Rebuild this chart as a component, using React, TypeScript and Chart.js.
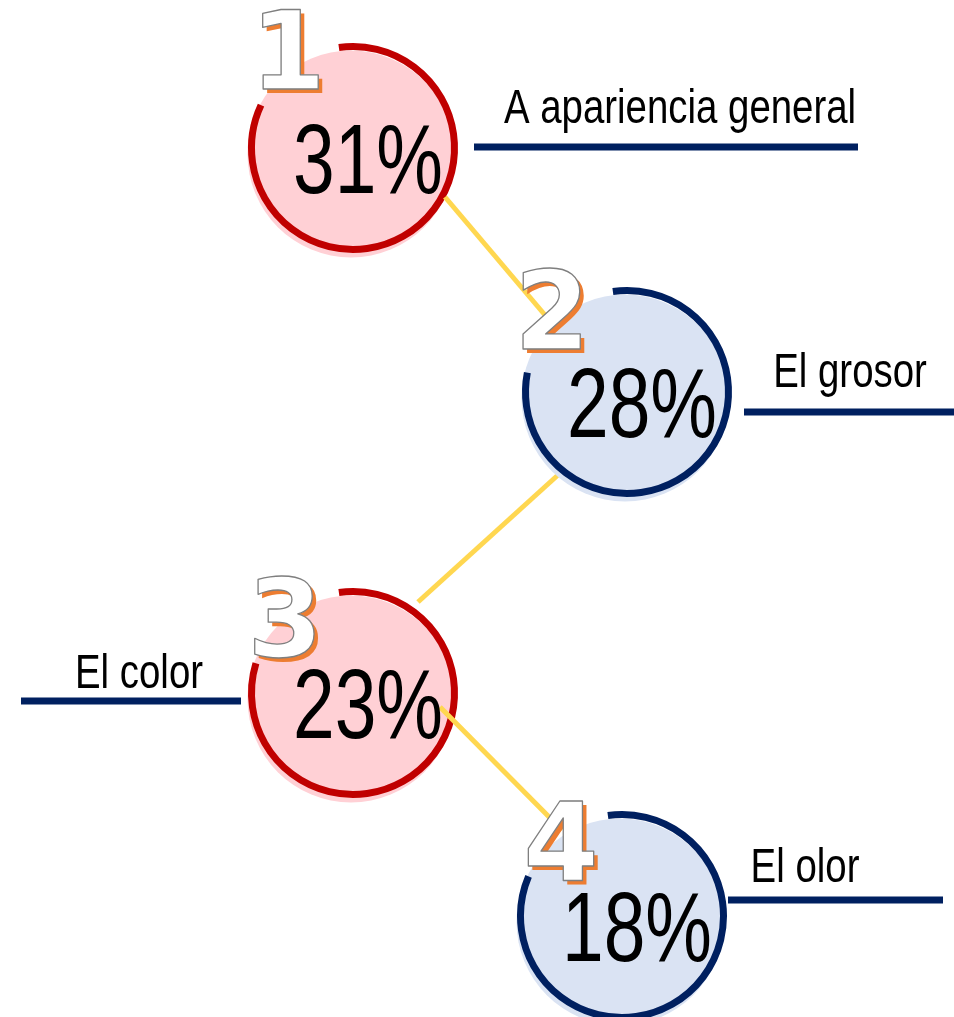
import { useEffect, useRef } from 'react';
import { Chart, registerables } from 'chart.js';

Chart.register(...registerables);

// ---------- data ----------
const categories = ['A apariencia general', 'El grosor', 'El color', 'El olor'];
const percentages = [31, 28, 23, 18];
const ranks = ['1', '2', '3', '4'];

// circle centres (data space of the diagram)
const centerX = [353, 627, 353, 622];
const centerY = [148, 392, 693, 916];

// rank badge anchor (centre x, baseline)
const badgeX = [288, 552, 285, 561];
const badgeY = [89, 349, 656, 880];

// category label anchor (centre x, baseline)
const labelX = [680, 850, 139, 805];
const labelY = [123, 387, 688, 882];

// leader lines under labels
const leaderStartX = [474, 744, 21, 728];
const leaderEndX = [858, 954, 241, 943];
const leaderY = [147, 412, 701, 900];

// yellow connectors between circles
const linkFromX = [445, 558, 440];
const linkFromY = [197, 475, 707];
const linkToX = [550, 418, 562];
const linkToY = [321, 602, 830];

// ring gap end angle (degrees) per circle
const ringEndDeg = [205, 191, 197, 203];

// ---------- style ----------
const W = 954;
const H = 1017;
const RING_R = 101.5;
const RING_W = 7;
const FILL_R = 103.5;
const FILL_DX = -2;
const FILL_DY = 6;
const RING_START_DEG = -98;
const themes = [
  { fill: '#FFD0D5', ring: '#C00000' },
  { fill: '#DAE3F3', ring: '#002060' },
  { fill: '#FFD0D5', ring: '#C00000' },
  { fill: '#DAE3F3', ring: '#002060' },
];
const circleOnTop = [false, true, false, true];
const NAVY = '#002060';
const YELLOW = '#FFD750';

const rad = (d: number) => (d * Math.PI) / 180;

export default function App() {
  const ref = useRef<HTMLCanvasElement>(null);

  useEffect(() => {
    document.body.style.margin = '0';
    const canvas = ref.current;
    if (!canvas) return;

    const drawCircle = (chart: any, i: number) => {
      const ctx = chart.ctx;
      const xs = chart.scales.x;
      const ys = chart.scales.y;
      const cx = xs.getPixelForValue(centerX[i]);
      const cy = ys.getPixelForValue(centerY[i]);
      ctx.save();
      ctx.fillStyle = themes[i].fill;
      ctx.beginPath();
      ctx.arc(cx + FILL_DX, cy + FILL_DY, FILL_R, 0, Math.PI * 2);
      ctx.fill();
      ctx.strokeStyle = themes[i].ring;
      ctx.lineWidth = RING_W;
      ctx.lineCap = 'butt';
      ctx.beginPath();
      ctx.arc(cx, cy, RING_R, rad(RING_START_DEG), rad(ringEndDeg[i]), false);
      ctx.stroke();
      ctx.restore();
    };

    const plugin = {
      id: 'infographic',
      beforeDatasetsDraw(chart: any) {
        for (let i = 0; i < categories.length; i++) {
          if (!circleOnTop[i]) drawCircle(chart, i);
        }
      },
      afterDatasetsDraw(chart: any) {
        for (let i = 0; i < categories.length; i++) {
          if (circleOnTop[i]) drawCircle(chart, i);
        }
        const ctx = chart.ctx;
        const xs = chart.scales.x;
        const ys = chart.scales.y;
        for (let i = 0; i < categories.length; i++) {
          const cx = xs.getPixelForValue(centerX[i]);
          const cy = ys.getPixelForValue(centerY[i]);

          // percentage
          ctx.save();
          ctx.font = '98px "Liberation Sans", Arial, sans-serif';
          ctx.fillStyle = '#000000';
          ctx.textAlign = 'center';
          ctx.textBaseline = 'alphabetic';
          ctx.translate(cx + 15, cy + 45);
          ctx.scale(0.765, 1);
          ctx.fillText(`${percentages[i]}%`, 0, 0);
          ctx.restore();

          // rank badge
          const bx = xs.getPixelForValue(badgeX[i]);
          const by = ys.getPixelForValue(badgeY[i]);
          ctx.save();
          ctx.font = 'bold 108px "DejaVu Sans", sans-serif';
          ctx.textAlign = 'center';
          ctx.textBaseline = 'alphabetic';
          ctx.fillStyle = '#ED7D31';
          ctx.fillText(ranks[i], bx + 4, by + 4);
          ctx.fillStyle = '#FFFFFF';
          ctx.fillText(ranks[i], bx, by);
          ctx.strokeStyle = '#7F7F7F';
          ctx.lineWidth = 1.3;
          ctx.lineJoin = 'round';
          ctx.strokeText(ranks[i], bx, by);
          ctx.restore();

          // category label
          const lx = xs.getPixelForValue(labelX[i]);
          const ly = ys.getPixelForValue(labelY[i]);
          ctx.save();
          ctx.font = '48px "Liberation Sans", Arial, sans-serif';
          ctx.fillStyle = '#000000';
          ctx.textAlign = 'center';
          ctx.textBaseline = 'alphabetic';
          ctx.translate(lx, ly);
          ctx.scale(0.8, 1);
          ctx.fillText(categories[i], 0, 0);
          ctx.restore();
        }
      },
    };

    const datasets: any[] = [];
    // circle centres (positions only; circles drawn by plugin)
    datasets.push({
      label: 'centres',
      data: centerX.map((x, i) => ({ x, y: centerY[i] })),
      pointRadius: 0,
      showLine: false,
    });
    // yellow connectors
    linkFromX.forEach((_, i) => {
      datasets.push({
        label: `link${i}`,
        data: [
          { x: linkFromX[i], y: linkFromY[i] },
          { x: linkToX[i], y: linkToY[i] },
        ],
        showLine: true,
        borderColor: YELLOW,
        borderWidth: 5,
        borderCapStyle: 'butt',
        pointRadius: 0,
        fill: false,
      });
    });
    // navy leader lines
    leaderY.forEach((y, i) => {
      datasets.push({
        label: `leader${i}`,
        data: [
          { x: leaderStartX[i], y },
          { x: leaderEndX[i], y },
        ],
        showLine: true,
        borderColor: NAVY,
        borderWidth: 7,
        borderCapStyle: 'butt',
        pointRadius: 0,
        fill: false,
      });
    });

    const chart = new Chart(canvas, {
      type: 'scatter',
      data: { datasets },
      options: {
        animation: false,
        responsive: false,
        maintainAspectRatio: false,
        events: [],
        layout: { padding: 0 },
        plugins: {
          legend: { display: false },
          tooltip: { enabled: false },
          title: { display: false },
        },
        scales: {
          x: { type: 'linear', min: 0, max: W, display: false },
          y: { type: 'linear', min: 0, max: H, reverse: true, display: false },
        },
      },
      plugins: [plugin],
    } as any);

    return () => chart.destroy();
  }, []);

  return (
    <div style={{ position: 'absolute', left: 0, top: 0, width: W, height: H }}>
      <canvas ref={ref} width={W} height={H} style={{ display: 'block', width: W, height: H }} />
    </div>
  );
}
